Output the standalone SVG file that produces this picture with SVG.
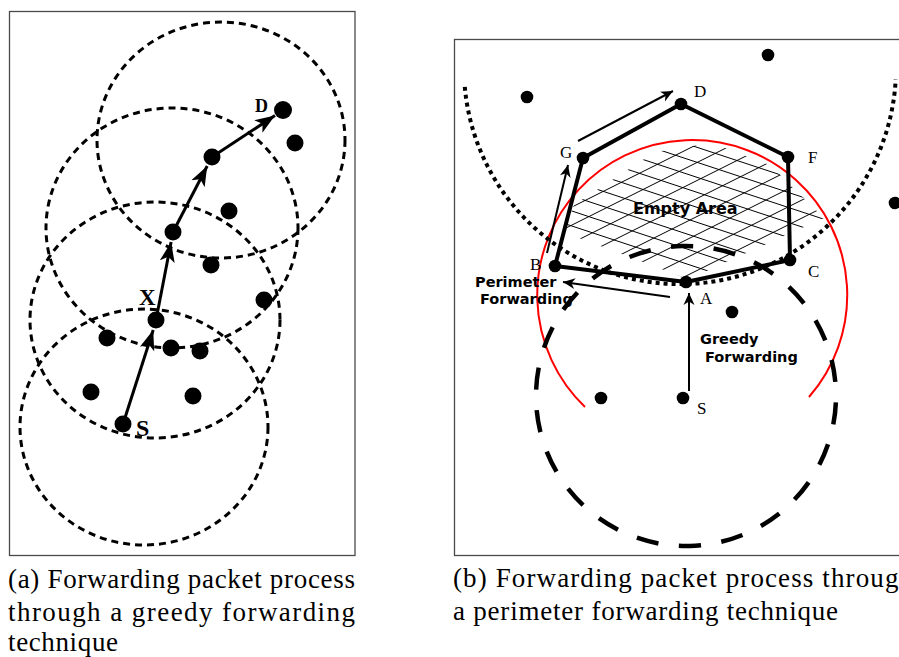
<svg xmlns="http://www.w3.org/2000/svg" width="899" height="657" viewBox="0 0 899 657">
  <style>
    .frame { fill: none; stroke: #4a4a4a; stroke-width: 1.3; }
    .range { fill: none; stroke: #000; stroke-width: 3; stroke-dasharray: 7 5; }
    .hop { fill: none; stroke: #000; stroke-width: 3; }
    .thin { fill: none; stroke: #000; stroke-width: 2; }
    .edge { fill: none; stroke: #000; stroke-width: 4; stroke-linejoin: round; stroke-linecap: round; }
    .hatch line { stroke: #000; stroke-width: 1; }
    .big { fill: #000; }
    .small { fill: #000; }
    .lblB { font-family: "Liberation Serif", "Times New Roman", serif; font-weight: bold; fill: #000; }
    .lbl { font-family: "Liberation Serif", "Times New Roman", serif; font-size: 17px; fill: #000; }
    .note { font-family: "DejaVu Sans", "Liberation Sans", sans-serif; font-weight: bold; fill: #000; }
    .cap { font-family: "Liberation Serif", "Times New Roman", serif; font-size: 27px; fill: #000; }
  </style>
  <defs>
    <marker id="headL" viewBox="0 -8 20 16" refX="20" refY="0" markerWidth="20" markerHeight="16" markerUnits="userSpaceOnUse" orient="auto">
      <path d="M20,0 L0,-7.5 L5,0 L0,7.5 Z" fill="#000"/>
    </marker>
    <marker id="headR" viewBox="0 -6 12 12" refX="12" refY="0" markerWidth="12" markerHeight="12" markerUnits="userSpaceOnUse" orient="auto">
      <path d="M12,0 L0,-5.5 L3.5,0 L0,5.5 Z" fill="#000"/>
    </marker>
    <clipPath id="emptyClip">
      <polygon points="563,232 574,205 655,152 712,143 770,165 824,218 700,274 688,279"/>
    </clipPath>
    <clipPath id="panelB">
      <rect x="455" y="40" width="460" height="515"/>
    </clipPath>
  </defs>

  <!-- ===== Panel (a): greedy forwarding ===== -->
  <rect class="frame" x="9.5" y="11.5" width="345.5" height="544"/>

  <g id="ranges-a">
    <ellipse class="range" cx="221" cy="140" rx="124" ry="118"/>
    <ellipse class="range" cx="172" cy="228" rx="126" ry="120"/>
    <ellipse class="range" cx="155" cy="320" rx="125" ry="118"/>
    <ellipse class="range" cx="144" cy="427" rx="124" ry="118"/>
  </g>

  <g id="connectors-a">
    <line class="hop" x1="123" y1="424" x2="153.2" y2="330" marker-end="url(#headL)"/>
    <line class="hop" x1="156" y1="320" x2="171.1" y2="242" marker-end="url(#headL)"/>
    <line class="hop" x1="173" y1="232" x2="207.2" y2="166" marker-end="url(#headL)"/>
    <line class="hop" x1="212" y1="157" x2="275" y2="115.5" marker-end="url(#headL)"/>
  </g>

  <g id="node-a-D"><circle class="big" cx="283" cy="110" r="9"/><text class="lblB" x="255" y="112" font-size="18">D</text></g>
  <g id="node-a-1"><circle class="big" cx="295" cy="143" r="8.5"/></g>
  <g id="node-a-2"><circle class="big" cx="212" cy="157" r="8.5"/></g>
  <g id="node-a-3"><circle class="big" cx="229" cy="211" r="8.5"/></g>
  <g id="node-a-4"><circle class="big" cx="173" cy="232" r="8.5"/></g>
  <g id="node-a-5"><circle class="big" cx="211" cy="265" r="8.5"/></g>
  <g id="node-a-6"><circle class="big" cx="264" cy="300" r="8.5"/></g>
  <g id="node-a-X"><circle class="big" cx="156" cy="320" r="8.5"/><text class="lblB" x="139" y="305" font-size="23">X</text></g>
  <g id="node-a-7"><circle class="big" cx="107" cy="338" r="8.5"/></g>
  <g id="node-a-8"><circle class="big" cx="171" cy="348" r="8.5"/></g>
  <g id="node-a-9"><circle class="big" cx="200" cy="351" r="8.5"/></g>
  <g id="node-a-10"><circle class="big" cx="91" cy="392" r="8.5"/></g>
  <g id="node-a-11"><circle class="big" cx="193" cy="396" r="8.5"/></g>
  <g id="node-a-S"><circle class="big" cx="123" cy="424" r="8.5"/><text class="lblB" x="136" y="436" font-size="24">S</text></g>

  <!-- ===== Panel (b): perimeter forwarding ===== -->
  <g clip-path="url(#panelB)">
    <!-- hatched void -->
    <g class="hatch" clip-path="url(#emptyClip)">
      <line x1="550" y1="68.8" x2="830" y2="161.2"/>
      <line x1="550" y1="83.8" x2="830" y2="176.2"/>
      <line x1="550" y1="98.8" x2="830" y2="191.2"/>
      <line x1="550" y1="113.8" x2="830" y2="206.2"/>
      <line x1="550" y1="128.8" x2="830" y2="221.2"/>
      <line x1="550" y1="143.8" x2="830" y2="236.2"/>
      <line x1="550" y1="158.8" x2="830" y2="251.2"/>
      <line x1="550" y1="173.8" x2="830" y2="266.2"/>
      <line x1="550" y1="188.8" x2="830" y2="281.2"/>
      <line x1="550" y1="203.8" x2="830" y2="296.2"/>
      <line x1="550" y1="218.8" x2="830" y2="311.2"/>
      <line x1="550" y1="233.8" x2="830" y2="326.2"/>
      <line x1="550" y1="248.8" x2="830" y2="341.2"/>
      <line x1="550" y1="263.8" x2="830" y2="356.2"/>
      <line x1="550" y1="200" x2="830" y2="60"/>
      <line x1="550" y1="218" x2="830" y2="78"/>
      <line x1="550" y1="236" x2="830" y2="96"/>
      <line x1="550" y1="254" x2="830" y2="114"/>
      <line x1="550" y1="272" x2="830" y2="132"/>
      <line x1="550" y1="290" x2="830" y2="150"/>
      <line x1="550" y1="308" x2="830" y2="168"/>
      <line x1="550" y1="326" x2="830" y2="186"/>
      <line x1="550" y1="344" x2="830" y2="204"/>
      <line x1="550" y1="362" x2="830" y2="222"/>
      <line x1="550" y1="380" x2="830" y2="240"/>
      <line x1="550" y1="398" x2="830" y2="258"/>
      <line x1="550" y1="416" x2="830" y2="276"/>
    </g>

    <!-- radio ranges -->
    <path id="range-A" d="M585,407 A155,155 0 1 1 809,397" fill="none" stroke="#ff0000" stroke-width="2"/>
    <path id="range-D" d="M464.8,86.8 A216,216 0 0 0 895.7,79.3" fill="none" stroke="#000" stroke-width="4" stroke-dasharray="4 4"/>
    <path id="range-S" d="M682.07,246.05 A150,150 0 1 1 689.93,545.95 A150,150 0 1 1 682.07,246.05" pathLength="220" fill="none" stroke="#000" stroke-width="4.5" stroke-dasharray="5.2 4.8" stroke-dashoffset="2.6"/>

    <g id="connectors-b">
      <path class="edge" d="M555,266 L583,158 L681,104 L788,157 L790,260 L686,282 Z"/>
      <line class="thin" x1="689" y1="391" x2="689" y2="293" marker-end="url(#headR)"/>
      <line class="thin" x1="670" y1="297" x2="563" y2="282" marker-end="url(#headR)"/>
      <line class="thin" x1="547" y1="253" x2="568" y2="165" marker-end="url(#headR)"/>
      <line class="thin" x1="578" y1="141" x2="673" y2="91" marker-end="url(#headR)"/>
    </g>

    <g id="node-b-D"><circle class="small" cx="681" cy="104" r="6.3"/><text class="lbl" x="694" y="97">D</text></g>
    <g id="node-b-G"><circle class="small" cx="583" cy="158" r="6.3"/><text class="lbl" x="560" y="158">G</text></g>
    <g id="node-b-F"><circle class="small" cx="788" cy="157" r="6.3"/><text class="lbl" x="808" y="163">F</text></g>
    <g id="node-b-B"><circle class="small" cx="555" cy="266" r="6.3"/><text class="lbl" x="530" y="270">B</text></g>
    <g id="node-b-C"><circle class="small" cx="790" cy="260" r="6.3"/><text class="lbl" x="808" y="277">C</text></g>
    <g id="node-b-A"><circle class="small" cx="686" cy="282" r="6.3"/><text class="lbl" x="700" y="304">A</text></g>
    <g id="node-b-S"><circle class="small" cx="683" cy="398" r="6.3"/><text class="lbl" x="697" y="414">S</text></g>
    <g id="node-b-1"><circle class="small" cx="527" cy="97" r="6.3"/></g>
    <g id="node-b-2"><circle class="small" cx="768" cy="55" r="6.3"/></g>
    <g id="node-b-3"><circle class="small" cx="895" cy="203" r="6.3"/></g>
    <g id="node-b-4"><circle class="small" cx="732" cy="312" r="6.3"/></g>
    <g id="node-b-5"><circle class="small" cx="601" cy="398" r="6.3"/></g>

    <text class="note" x="633" y="214" style="font-size:16px">Empty Area</text>
    <text class="note" x="475" y="287" style="font-size:14.5px">Perimeter</text>
    <text class="note" x="480" y="304" style="font-size:14.5px">Forwarding</text>
    <text class="note" x="700" y="344" style="font-size:14.5px">Greedy</text>
    <text class="note" x="705" y="362" style="font-size:14.5px">Forwarding</text>
  </g>
  <rect class="frame" x="454.5" y="39.5" width="460" height="516"/>

  <!-- ===== Captions ===== -->
  <text class="cap" x="8" y="588" textLength="347" lengthAdjust="spacing">(a) Forwarding packet process</text>
  <text class="cap" x="8" y="621" textLength="347" lengthAdjust="spacing">through a greedy forwarding</text>
  <text class="cap" x="8" y="651" textLength="110" lengthAdjust="spacing">technique</text>
  <text class="cap" x="453" y="587" textLength="460" lengthAdjust="spacing">(b) Forwarding packet process through</text>
  <text class="cap" x="453" y="620" textLength="385" lengthAdjust="spacing">a perimeter forwarding technique</text>
</svg>
